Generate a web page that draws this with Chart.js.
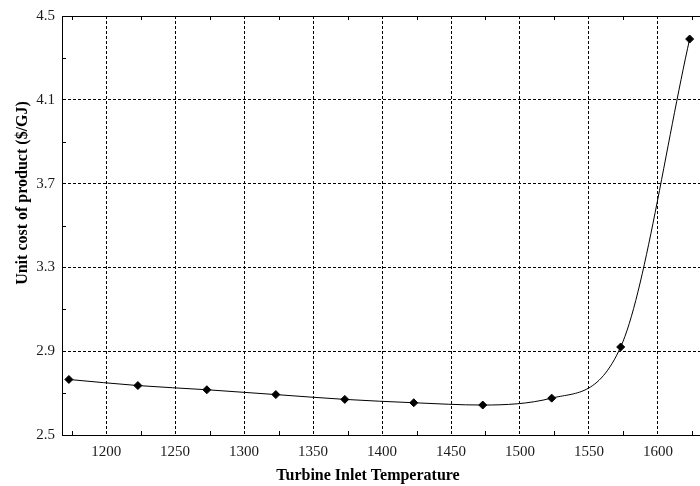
<!DOCTYPE html>
<html>
<head>
<meta charset="utf-8">
<script src="https://cdn.jsdelivr.net/npm/chart.js@4/dist/chart.umd.min.js"></script>
<style>
  html, body { margin: 0; padding: 0; background: #fff; }
  #wrap { width: 700px; height: 486px; position: relative; }
</style>
</head>
<body>
<div id="wrap"><canvas id="costChart"></canvas></div>
<script>
// Turbine inlet temperature (K) vs unit cost of product ($/GJ)
const temps = [1173, 1223, 1273, 1323, 1373, 1423, 1473, 1523, 1573, 1623];
const unitCost = [2.765, 2.736, 2.716, 2.693, 2.670, 2.654, 2.643, 2.676, 2.920, 4.390];

const xTicks = [1200, 1250, 1300, 1350, 1400, 1450, 1500, 1550, 1600];
const yTicks = [2.5, 2.9, 3.3, 3.7, 4.1, 4.5];
const xMinor = [1175, 1225, 1275, 1325, 1375, 1425, 1475, 1525, 1575, 1625];
const yMinor = [2.7, 3.1, 3.5, 3.9, 4.3];

const xTitle = 'Turbine Inlet Temperature';
const yTitle = 'Unit cost of product ($/GJ)';

const FONT = '"Liberation Serif", "Times New Roman", serif';

// frame extras: inward minor ticks, top border, axis titles
const framePlugin = {
  id: 'frame',
  afterDraw(chart) {
    const { ctx, chartArea: a, scales } = chart;
    const xs = scales.x, ys = scales.y;
    ctx.save();
    ctx.strokeStyle = '#000';
    ctx.lineWidth = 1;
    ctx.beginPath();
    ctx.moveTo(a.left, a.top + 0.5);
    ctx.lineTo(a.right, a.top + 0.5);
    for (const v of xMinor) {
      const px = Math.round(xs.getPixelForValue(v)) + 0.5;
      ctx.moveTo(px, a.bottom);
      ctx.lineTo(px, a.bottom - 4);
      ctx.moveTo(px, a.top);
      ctx.lineTo(px, a.top + 4);
    }
    for (const v of yMinor) {
      const py = Math.round(ys.getPixelForValue(v)) + 0.5;
      ctx.moveTo(a.left, py);
      ctx.lineTo(a.left + 4, py);
    }
    ctx.stroke();

    ctx.fillStyle = '#000';
    ctx.font = 'bold 16px ' + FONT;
    ctx.textAlign = 'center';
    ctx.textBaseline = 'middle';
    ctx.fillText(xTitle, 368, 476);
    ctx.translate(23, 193);
    ctx.rotate(-Math.PI / 2);
    ctx.fillText(yTitle, 0, 0);
    ctx.restore();
  }
};

new Chart(document.getElementById('costChart'), {
  type: 'line',
  data: {
    datasets: [{
      data: temps.map((t, i) => ({ x: t, y: unitCost[i] })),
      borderColor: '#000',
      borderWidth: 1,
      backgroundColor: '#000',
      pointStyle: 'rectRot',
      pointRadius: 4,
      pointHoverRadius: 4,
      cubicInterpolationMode: 'monotone',
      fill: false
    }]
  },
  options: {
    responsive: true,
    maintainAspectRatio: false,
    animation: false,
    layout: { autoPadding: false, padding: { top: 16, right: 0, left: 0, bottom: 0 } },
    plugins: { legend: { display: false }, tooltip: { enabled: false } },
    scales: {
      x: {
        type: 'linear',
        min: 1168,
        max: 1630.5,
        afterBuildTicks: s => { s.ticks = xTicks.map(v => ({ value: v })); },
        afterFit: s => { s.height = 51; },
        grid: { color: '#000', lineWidth: 1, drawTicks: false },
        border: { display: true, color: '#000', width: 1, dash: [3, 2] },
        ticks: {
          padding: 8,
          color: '#1a1a1a',
          font: { family: FONT, size: 15 },
          maxRotation: 0,
          callback: v => String(v)
        }
      },
      y: {
        type: 'linear',
        min: 2.5,
        max: 4.5,
        afterBuildTicks: s => { s.ticks = yTicks.map(v => ({ value: v })); },
        afterFit: s => { s.width = 62; },
        grid: { color: '#000', lineWidth: 1, drawTicks: false },
        border: { display: true, color: '#000', width: 1, dash: [3, 2] },
        ticks: {
          padding: 7,
          color: '#1a1a1a',
          font: { family: FONT, size: 15 },
          callback: v => v.toFixed(1)
        }
      }
    }
  },
  plugins: [framePlugin]
});
</script>
</body>
</html>
